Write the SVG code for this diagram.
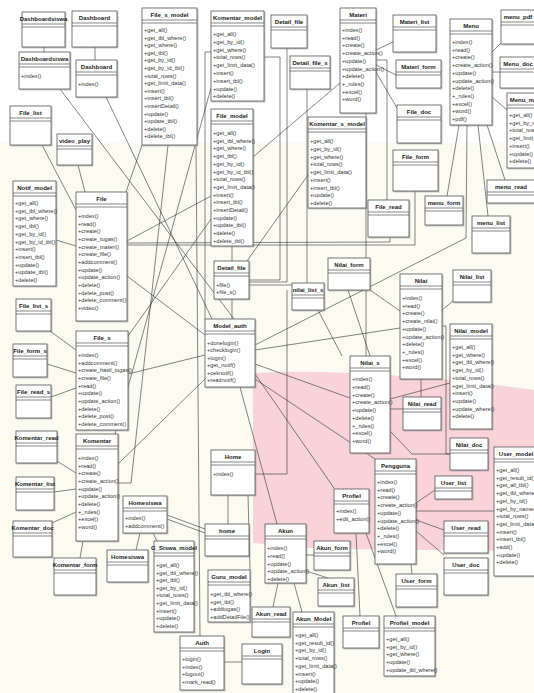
<svg xmlns="http://www.w3.org/2000/svg" width="534" height="693" viewBox="0 0 534 693">
<defs>
<filter id="sh" x="-10%" y="-10%" width="130%" height="130%"><feDropShadow dx="1" dy="1" stdDeviation="0.6" flood-color="#888" flood-opacity="0.55"/></filter>
</defs>
<style>
.b{fill:#fff;stroke:#555;stroke-width:0.8;filter:url(#sh)}
.d{stroke:#555;stroke-width:0.7;fill:none}
.n{font-family:"Liberation Sans Narrow","Liberation Sans",Arial,sans-serif;font-size:6px;font-weight:bold;fill:#222;text-anchor:middle}
.m{font-family:"Liberation Sans Narrow","Liberation Sans",Arial,sans-serif;font-size:5.6px;fill:#333}
#conn polyline{fill:none;stroke:#333;stroke-width:0.6}
</style>
<rect x="0" y="0" width="534" height="693" fill="#ffffff"/>
<rect x="0" y="143" width="534" height="550" fill="#fbfbf1"/>
<path d="M253,373 C330,368 450,378 534,390 L534,551 L320,549 L253,543 Z" fill="#f9d3d8"/>
<g id="conn">
<polyline points="44,47 44,52"/>
<polyline points="95,47 95,60"/>
<polyline points="60,89 234,319"/>
<polyline points="106,97 212,319"/>
<polyline points="42,145 76,210"/>
<polyline points="78,165 85,192"/>
<polyline points="142,145 126,192"/>
<polyline points="56,240 76,246"/>
<polyline points="127,241 211,196"/>
<polyline points="127,243 390,242 390,237"/>
<polyline points="127,245 415,245 415,191"/>
<polyline points="127,276 205,335"/>
<polyline points="50,331 76,350"/>
<polyline points="47,364 76,373"/>
<polyline points="51,397 76,388"/>
<polyline points="128,336 211,219"/>
<polyline points="128,374 205,355"/>
<polyline points="57,461 76,473"/>
<polyline points="54,492 76,489"/>
<polyline points="52,523 76,512"/>
<polyline points="83,541 80,558"/>
<polyline points="118,464 205,379"/>
<polyline points="118,483 131,483 168,145"/>
<polyline points="211,88 115,434"/>
<polyline points="211,52 205,52 205,319"/>
<polyline points="232,246 232,261"/>
<polyline points="232,299 232,319"/>
<polyline points="247,261 308,175"/>
<polyline points="340,83 253,157"/>
<polyline points="287,48 287,282 249,282"/>
<polyline points="307,89 307,285 249,285"/>
<polyline points="264,57 280,57 280,280 249,280"/>
<polyline points="376,50 393,42"/>
<polyline points="376,65 396,75"/>
<polyline points="376,72 397,108"/>
<polyline points="366,113 366,356"/>
<polyline points="376,60 387,60 387,200"/>
<polyline points="492,52 501,43"/>
<polyline points="492,72 500,72"/>
<polyline points="492,97 507,110"/>
<polyline points="459,125 447,196"/>
<polyline points="467,125 466,238 255,345"/>
<polyline points="478,125 488,216"/>
<polyline points="487,125 505,180"/>
<polyline points="370,290 400,311"/>
<polyline points="255,350 400,328"/>
<polyline points="442,310 453,301"/>
<polyline points="442,326 446,326 446,454 450,454"/>
<polyline points="421,379 421,397"/>
<polyline points="390,399 450,383"/>
<polyline points="390,409 403,409"/>
<polyline points="390,431 412,454 450,454"/>
<polyline points="255,364 350,398"/>
<polyline points="255,374 334,488"/>
<polyline points="255,379 375,459"/>
<polyline points="240,387 277,524"/>
<polyline points="318,310 342,356"/>
<polyline points="348,290 370,356"/>
<polyline points="416,503 435,490"/>
<polyline points="416,511 494,511"/>
<polyline points="416,520 444,530"/>
<polyline points="416,531 444,555"/>
<polyline points="411,564 412,574"/>
<polyline points="356,533 360,616"/>
<polyline points="366,533 396,616"/>
<polyline points="306,555 314,555"/>
<polyline points="306,571 328,578"/>
<polyline points="278,583 273,607"/>
<polyline points="294,583 302,612"/>
<polyline points="223,662 242,662"/>
<polyline points="228,495 228,524"/>
<polyline points="140,533 136,550"/>
<polyline points="153,533 157,541"/>
<polyline points="167,515 205,529"/>
<polyline points="167,519 205,533"/>
<polyline points="255,474 287,474 287,290"/>
<polyline points="196,145 200,636"/>
<polyline points="248,495 250,570"/>
</g>
<g id="dashboardsiswa1"><rect class="b" x="22" y="12" width="43" height="35"/><path class="d" d="M22 24h43M22 27h43"/><text class="n" x="43.5" y="21">Dashboardsiswa</text></g>
<g id="dashboard1"><rect class="b" x="72" y="11" width="45" height="36"/><path class="d" d="M72 23h45M72 26h45"/><text class="n" x="94.5" y="20">Dashboard</text></g>
<g id="dashboardsiswa2"><rect class="b" x="19" y="52" width="51" height="37"/><path class="d" d="M19 64h51M19 67h51"/><text class="n" x="44.5" y="61">Dashboardsiswa</text><text class="m" x="21" y="78">+index()</text></g>
<g id="dashboard2"><rect class="b" x="76" y="60" width="41" height="37"/><path class="d" d="M76 72h41M76 75h41"/><text class="n" x="96.5" y="69">Dashboard</text><text class="m" x="78" y="86">+index()</text></g>
<g id="file_s_model"><rect class="b" x="142" y="8" width="55" height="137"/><path class="d" d="M142 20h55M142 23h55"/><text class="n" x="169.5" y="17">File_s_model</text><text class="m" x="144" y="32"><tspan x="144">+get_all()</tspan><tspan x="144" dy="7.6">+get_tbl_where()</tspan><tspan x="144" dy="7.6">+get_where()</tspan><tspan x="144" dy="7.6">+get_tbl()</tspan><tspan x="144" dy="7.6">+get_by_id()</tspan><tspan x="144" dy="7.6">+get_by_id_tbl()</tspan><tspan x="144" dy="7.6">+total_rows()</tspan><tspan x="144" dy="7.6">+get_limit_data()</tspan><tspan x="144" dy="7.6">+insert()</tspan><tspan x="144" dy="7.6">+insert_tbl()</tspan><tspan x="144" dy="7.6">+insertDetail()</tspan><tspan x="144" dy="7.6">+update()</tspan><tspan x="144" dy="7.6">+update_tbl()</tspan><tspan x="144" dy="7.6">+delete()</tspan><tspan x="144" dy="7.6">+delete_tbl()</tspan></text></g>
<g id="komentar_model"><rect class="b" x="211" y="11" width="53" height="90"/><path class="d" d="M211 23h53M211 26h53"/><text class="n" x="237.5" y="20">Komentar_model</text><text class="m" x="213" y="36"><tspan x="213">+get_all()</tspan><tspan x="213" dy="7.8">+get_by_id()</tspan><tspan x="213" dy="7.8">+get_where()</tspan><tspan x="213" dy="7.8">+total_rows()</tspan><tspan x="213" dy="7.8">+get_limit_data()</tspan><tspan x="213" dy="7.8">+insert()</tspan><tspan x="213" dy="7.8">+insert_tbl()</tspan><tspan x="213" dy="7.8">+update()</tspan><tspan x="213" dy="7.8">+delete()</tspan></text></g>
<g id="detail_file1"><rect class="b" x="271" y="15" width="36" height="33"/><path class="d" d="M271 27h36M271 30h36"/><text class="n" x="289" y="24">Detail_file</text></g>
<g id="detail_file_s"><rect class="b" x="290" y="56" width="40" height="33"/><path class="d" d="M290 68h40M290 71h40"/><text class="n" x="310" y="65">Detail_file_s</text></g>
<g id="materi"><rect class="b" x="340" y="8" width="36" height="105"/><path class="d" d="M340 20h36M340 23h36"/><text class="n" x="358" y="17">Materi</text><text class="m" x="342" y="32"><tspan x="342">+index()</tspan><tspan x="342" dy="7.7">+read()</tspan><tspan x="342" dy="7.7">+create()</tspan><tspan x="342" dy="7.7">+create_action()</tspan><tspan x="342" dy="7.7">+update()</tspan><tspan x="342" dy="7.7">+update_action()</tspan><tspan x="342" dy="7.7">+delete()</tspan><tspan x="342" dy="7.7">+_rules()</tspan><tspan x="342" dy="7.7">+excel()</tspan><tspan x="342" dy="7.7">+word()</tspan></text></g>
<g id="materi_list"><rect class="b" x="393" y="15" width="43" height="37"/><path class="d" d="M393 27h43M393 30h43"/><text class="n" x="414.5" y="24">Materi_list</text></g>
<g id="materi_form"><rect class="b" x="396" y="60" width="45" height="28"/><path class="d" d="M396 72h45M396 75h45"/><text class="n" x="418.5" y="69">Materi_form</text></g>
<g id="file_doc"><rect class="b" x="397" y="105" width="44" height="38"/><path class="d" d="M397 117h44M397 120h44"/><text class="n" x="419" y="114">File_doc</text></g>
<g id="file_form"><rect class="b" x="393" y="150" width="45" height="41"/><path class="d" d="M393 162h45M393 165h45"/><text class="n" x="415.5" y="159">File_form</text></g>
<g id="menu"><rect class="b" x="450" y="19" width="42" height="106"/><path class="d" d="M450 31h42M450 34h42"/><text class="n" x="471" y="28">Menu</text><text class="m" x="452" y="44"><tspan x="452">+index()</tspan><tspan x="452" dy="7.7">+read()</tspan><tspan x="452" dy="7.7">+create()</tspan><tspan x="452" dy="7.7">+create_action()</tspan><tspan x="452" dy="7.7">+update()</tspan><tspan x="452" dy="7.7">+update_action()</tspan><tspan x="452" dy="7.7">+delete()</tspan><tspan x="452" dy="7.7">+_rules()</tspan><tspan x="452" dy="7.7">+excel()</tspan><tspan x="452" dy="7.7">+word()</tspan><tspan x="452" dy="7.7">+pdf()</tspan></text></g>
<g id="menu_pdf"><rect class="b" x="501" y="10" width="36" height="34"/><path class="d" d="M501 22h36M501 25h36"/><text class="n" x="518" y="19">menu_pdf</text></g>
<g id="menu_doc"><rect class="b" x="500" y="57" width="38" height="31"/><path class="d" d="M500 69h38M500 72h38"/><text class="n" x="518" y="66">Menu_doc</text></g>
<g id="menu_model"><rect class="b" x="507" y="93" width="42" height="75"/><path class="d" d="M507 105h42M507 108h42"/><text class="n" x="528" y="102">Menu_model</text><text class="m" x="509" y="117"><tspan x="509">+get_all()</tspan><tspan x="509" dy="7.7">+get_by_id()</tspan><tspan x="509" dy="7.7">+total_rows()</tspan><tspan x="509" dy="7.7">+get_limit_data()</tspan><tspan x="509" dy="7.7">+insert()</tspan><tspan x="509" dy="7.7">+update()</tspan><tspan x="509" dy="7.7">+delete()</tspan></text></g>
<g id="file_model"><rect class="b" x="211" y="109" width="42" height="137"/><path class="d" d="M211 121h42M211 124h42"/><text class="n" x="232" y="118">File_model</text><text class="m" x="213" y="135"><tspan x="213">+get_all()</tspan><tspan x="213" dy="7.7">+get_tbl_where()</tspan><tspan x="213" dy="7.7">+get_where()</tspan><tspan x="213" dy="7.7">+get_tbl()</tspan><tspan x="213" dy="7.7">+get_by_id()</tspan><tspan x="213" dy="7.7">+get_by_id_tbl()</tspan><tspan x="213" dy="7.7">+total_rows()</tspan><tspan x="213" dy="7.7">+get_limit_data()</tspan><tspan x="213" dy="7.7">+insert()</tspan><tspan x="213" dy="7.7">+insert_tbl()</tspan><tspan x="213" dy="7.7">+insertDetail()</tspan><tspan x="213" dy="7.7">+update()</tspan><tspan x="213" dy="7.7">+update_tbl()</tspan><tspan x="213" dy="7.7">+delete()</tspan><tspan x="213" dy="7.7">+delete_tbl()</tspan></text></g>
<g id="komentar_s_model"><rect class="b" x="308" y="117" width="58" height="91"/><path class="d" d="M308 129h58M308 132h58"/><text class="n" x="337" y="126">Komentar_s_model</text><text class="m" x="310" y="143"><tspan x="310">+get_all()</tspan><tspan x="310" dy="7.75">+get_by_id()</tspan><tspan x="310" dy="7.75">+get_where()</tspan><tspan x="310" dy="7.75">+total_rows()</tspan><tspan x="310" dy="7.75">+get_limit_data()</tspan><tspan x="310" dy="7.75">+insert()</tspan><tspan x="310" dy="7.75">+insert_tbl()</tspan><tspan x="310" dy="7.75">+update()</tspan><tspan x="310" dy="7.75">+delete()</tspan></text></g>
<g id="file_list"><rect class="b" x="10" y="106" width="41" height="39"/><path class="d" d="M10 118h41M10 121h41"/><text class="n" x="30.5" y="115">File_list</text></g>
<g id="video_play"><rect class="b" x="57" y="134" width="35" height="31"/><path class="d" d="M57 146h35M57 149h35"/><text class="n" x="74.5" y="143">video_play</text></g>
<g id="notif_model"><rect class="b" x="13" y="181" width="43" height="105"/><path class="d" d="M13 193h43M13 196h43"/><text class="n" x="34.5" y="190">Notif_model</text><text class="m" x="15" y="205"><tspan x="15">+get_all()</tspan><tspan x="15" dy="7.7">+get_tbl_where()</tspan><tspan x="15" dy="7.7">+get_where()</tspan><tspan x="15" dy="7.7">+get_tbl()</tspan><tspan x="15" dy="7.7">+get_by_id()</tspan><tspan x="15" dy="7.7">+get_by_id_tbl()</tspan><tspan x="15" dy="7.7">+insert()</tspan><tspan x="15" dy="7.7">+insert_tbl()</tspan><tspan x="15" dy="7.7">+update()</tspan><tspan x="15" dy="7.7">+update_tbl()</tspan><tspan x="15" dy="7.7">+delete()</tspan></text></g>
<g id="file"><rect class="b" x="76" y="192" width="51" height="129"/><path class="d" d="M76 204h51M76 207h51"/><text class="n" x="101.5" y="201">File</text><text class="m" x="78" y="218"><tspan x="78">+index()</tspan><tspan x="78" dy="7.67">+read()</tspan><tspan x="78" dy="7.67">+create()</tspan><tspan x="78" dy="7.67">+create_tugas()</tspan><tspan x="78" dy="7.67">+create_materi()</tspan><tspan x="78" dy="7.67">+create_file()</tspan><tspan x="78" dy="7.67">+addcomment()</tspan><tspan x="78" dy="7.67">+update()</tspan><tspan x="78" dy="7.67">+update_action()</tspan><tspan x="78" dy="7.67">+delete()</tspan><tspan x="78" dy="7.67">+delete_post()</tspan><tspan x="78" dy="7.67">+delete_comment()</tspan><tspan x="78" dy="7.67">+video()</tspan></text></g>
<g id="detail_file2"><rect class="b" x="214" y="261" width="35" height="38"/><path class="d" d="M214 273h35M214 276h35"/><text class="n" x="231.5" y="270">Detail_file</text><text class="m" x="216" y="287"><tspan x="216">+file()</tspan><tspan x="216" dy="7">+file_s()</tspan></text></g>
<g id="nilai_list_s"><rect class="b" x="292" y="283" width="32" height="27"/><path class="d" d="M292 295h32M292 298h32"/><text class="n" x="308" y="292">nilai_list_s</text></g>
<g id="nilai_form"><rect class="b" x="328" y="258" width="42" height="32"/><path class="d" d="M328 270h42M328 273h42"/><text class="n" x="349" y="267">Nilai_form</text></g>
<g id="model_auth"><rect class="b" x="205" y="319" width="50" height="68"/><path class="d" d="M205 331h50M205 334h50"/><text class="n" x="230" y="328">Model_auth</text><text class="m" x="207" y="345"><tspan x="207">+donelogin()</tspan><tspan x="207" dy="7.4">+checklogin()</tspan><tspan x="207" dy="7.4">+login()</tspan><tspan x="207" dy="7.4">+get_notif()</tspan><tspan x="207" dy="7.4">+ceknotif()</tspan><tspan x="207" dy="7.4">+readnotif()</tspan></text></g>
<g id="file_list_s"><rect class="b" x="16" y="299" width="35" height="32"/><path class="d" d="M16 311h35M16 314h35"/><text class="n" x="33.5" y="308">File_list_s</text></g>
<g id="file_s"><rect class="b" x="76" y="331" width="52" height="99"/><path class="d" d="M76 343h52M76 346h52"/><text class="n" x="102" y="340">File_s</text><text class="m" x="78" y="357"><tspan x="78">+index()</tspan><tspan x="78" dy="7.67">+addcomment()</tspan><tspan x="78" dy="7.67">+create_hasil_tugas()</tspan><tspan x="78" dy="7.67">+create_file()</tspan><tspan x="78" dy="7.67">+read()</tspan><tspan x="78" dy="7.67">+update()</tspan><tspan x="78" dy="7.67">+update_action()</tspan><tspan x="78" dy="7.67">+delete()</tspan><tspan x="78" dy="7.67">+delete_post()</tspan><tspan x="78" dy="7.67">+delete_comment()</tspan></text></g>
<g id="file_form_s"><rect class="b" x="13" y="344" width="34" height="33"/><path class="d" d="M13 356h34M13 359h34"/><text class="n" x="30" y="353">File_form_s</text></g>
<g id="file_read_s"><rect class="b" x="16" y="385" width="35" height="33"/><path class="d" d="M16 397h35M16 400h35"/><text class="n" x="33.5" y="394">File_read_s</text></g>
<g id="komentar_read"><rect class="b" x="16" y="431" width="41" height="32"/><path class="d" d="M16 443h41M16 446h41"/><text class="n" x="36.5" y="440">Komentar_read</text></g>
<g id="komentar_list"><rect class="b" x="16" y="477" width="38" height="33"/><path class="d" d="M16 489h38M16 492h38"/><text class="n" x="35" y="486">Komentar_list</text></g>
<g id="komentar"><rect class="b" x="76" y="434" width="42" height="107"/><path class="d" d="M76 446h42M76 449h42"/><text class="n" x="97" y="443">Komentar</text><text class="m" x="78" y="460"><tspan x="78">+index()</tspan><tspan x="78" dy="7.67">+read()</tspan><tspan x="78" dy="7.67">+create()</tspan><tspan x="78" dy="7.67">+create_action()</tspan><tspan x="78" dy="7.67">+update()</tspan><tspan x="78" dy="7.67">+update_action()</tspan><tspan x="78" dy="7.67">+delete()</tspan><tspan x="78" dy="7.67">+_rules()</tspan><tspan x="78" dy="7.67">+excel()</tspan><tspan x="78" dy="7.67">+word()</tspan></text></g>
<g id="komentar_doc"><rect class="b" x="13" y="521" width="39" height="36"/><path class="d" d="M13 533h39M13 536h39"/><text class="n" x="32.5" y="530">Komentar_doc</text></g>
<g id="komentar_form"><rect class="b" x="54" y="558" width="42" height="37"/><path class="d" d="M54 570h42M54 573h42"/><text class="n" x="75" y="567">Komentar_form</text></g>
<g id="homesiswa1"><rect class="b" x="123" y="496" width="44" height="37"/><path class="d" d="M123 508h44M123 511h44"/><text class="n" x="145" y="505">Homesiswa</text><text class="m" x="125" y="520"><tspan x="125">+index()</tspan><tspan x="125" dy="8">+addcomment()</tspan></text></g>
<g id="homesiswa2"><rect class="b" x="107" y="550" width="41" height="32"/><path class="d" d="M107 562h41M107 565h41"/><text class="n" x="127.5" y="559">Homesiswa</text></g>
<g id="g_siswa_model"><rect class="b" x="154" y="541" width="40" height="91"/><path class="d" d="M154 553h40M154 556h40"/><text class="n" x="174" y="550">G_Siswa_model</text><text class="m" x="156" y="567"><tspan x="156">+get_all()</tspan><tspan x="156" dy="7.6">+get_tbl_where()</tspan><tspan x="156" dy="7.6">+get_tbl()</tspan><tspan x="156" dy="7.6">+get_by_id()</tspan><tspan x="156" dy="7.6">+total_rows()</tspan><tspan x="156" dy="7.6">+get_limit_data()</tspan><tspan x="156" dy="7.6">+insert()</tspan><tspan x="156" dy="7.6">+update()</tspan><tspan x="156" dy="7.6">+delete()</tspan></text></g>
<g id="home1"><rect class="b" x="211" y="450" width="44" height="45"/><path class="d" d="M211 462h44M211 465h44"/><text class="n" x="233" y="459">Home</text><text class="m" x="213" y="476">+index()</text></g>
<g id="home2"><rect class="b" x="205" y="524" width="44" height="32"/><path class="d" d="M205 536h44M205 539h44"/><text class="n" x="227" y="533">home</text></g>
<g id="guru_model"><rect class="b" x="208" y="570" width="42" height="52"/><path class="d" d="M208 582h42M208 585h42"/><text class="n" x="229" y="579">Guru_model</text><text class="m" x="210" y="596"><tspan x="210">+get_tbl_where()</tspan><tspan x="210" dy="7.7">+get_tbl()</tspan><tspan x="210" dy="7.7">+addtugas()</tspan><tspan x="210" dy="7.7">+addDetailFile()</tspan></text></g>
<g id="auth"><rect class="b" x="180" y="636" width="44" height="54"/><path class="d" d="M180 648h44M180 651h44"/><text class="n" x="202" y="645">Auth</text><text class="m" x="182" y="661"><tspan x="182">+login()</tspan><tspan x="182" dy="7.7">+index()</tspan><tspan x="182" dy="7.7">+logout()</tspan><tspan x="182" dy="7.7">+mark_read()</tspan></text></g>
<g id="login"><rect class="b" x="242" y="644" width="40" height="40"/><path class="d" d="M242 656h40M242 659h40"/><text class="n" x="262" y="653">Login</text></g>
<g id="akun"><rect class="b" x="265" y="524" width="41" height="59"/><path class="d" d="M265 536h41M265 539h41"/><text class="n" x="285.5" y="533">Akun</text><text class="m" x="267" y="550"><tspan x="267">+index()</tspan><tspan x="267" dy="7.75">+read()</tspan><tspan x="267" dy="7.75">+update()</tspan><tspan x="267" dy="7.75">+update_action()</tspan><tspan x="267" dy="7.75">+delete()</tspan></text></g>
<g id="akun_form"><rect class="b" x="314" y="541" width="36" height="29"/><path class="d" d="M314 553h36M314 556h36"/><text class="n" x="332" y="550">Akun_form</text></g>
<g id="akun_list"><rect class="b" x="318" y="578" width="36" height="28"/><path class="d" d="M318 590h36M318 593h36"/><text class="n" x="336" y="587">Akun_list</text></g>
<g id="akun_read"><rect class="b" x="252" y="607" width="38" height="30"/><path class="d" d="M252 619h38M252 622h38"/><text class="n" x="271" y="616">Akun_read</text></g>
<g id="akun_model"><rect class="b" x="293" y="612" width="41" height="84"/><path class="d" d="M293 624h41M293 627h41"/><text class="n" x="313.5" y="621">Akun_Model</text><text class="m" x="295" y="637"><tspan x="295">+get_all()</tspan><tspan x="295" dy="7.7">+get_result_id()</tspan><tspan x="295" dy="7.7">+get_by_id()</tspan><tspan x="295" dy="7.7">+total_rows()</tspan><tspan x="295" dy="7.7">+get_limit_data()</tspan><tspan x="295" dy="7.7">+insert()</tspan><tspan x="295" dy="7.7">+update()</tspan><tspan x="295" dy="7.7">+delete()</tspan></text></g>
<g id="profiel2"><rect class="b" x="343" y="616" width="36" height="32"/><path class="d" d="M343 628h36M343 631h36"/><text class="n" x="361" y="625">Profiel</text></g>
<g id="profiel_model"><rect class="b" x="384" y="616" width="51" height="60"/><path class="d" d="M384 628h51M384 631h51"/><text class="n" x="409.5" y="625">Profiel_model</text><text class="m" x="386" y="641"><tspan x="386">+get_all()</tspan><tspan x="386" dy="7.7">+get_by_id()</tspan><tspan x="386" dy="7.7">+get_where()</tspan><tspan x="386" dy="7.7">+update()</tspan><tspan x="386" dy="7.7">+update_tbl_where()</tspan></text></g>
<g id="user_form"><rect class="b" x="396" y="574" width="41" height="33"/><path class="d" d="M396 586h41M396 589h41"/><text class="n" x="416.5" y="583">User_form</text></g>
<g id="user_read"><rect class="b" x="444" y="521" width="44" height="32"/><path class="d" d="M444 533h44M444 536h44"/><text class="n" x="466" y="530">User_read</text></g>
<g id="user_doc"><rect class="b" x="444" y="558" width="44" height="37"/><path class="d" d="M444 570h44M444 573h44"/><text class="n" x="466" y="567">User_doc</text></g>
<g id="pengguna"><rect class="b" x="375" y="459" width="41" height="105"/><path class="d" d="M375 471h41M375 474h41"/><text class="n" x="395.5" y="468">Pengguna</text><text class="m" x="377" y="484"><tspan x="377">+index()</tspan><tspan x="377" dy="7.7">+read()</tspan><tspan x="377" dy="7.7">+create()</tspan><tspan x="377" dy="7.7">+create_action()</tspan><tspan x="377" dy="7.7">+update()</tspan><tspan x="377" dy="7.7">+update_action()</tspan><tspan x="377" dy="7.7">+delete()</tspan><tspan x="377" dy="7.7">+_rules()</tspan><tspan x="377" dy="7.7">+excel()</tspan><tspan x="377" dy="7.7">+word()</tspan></text></g>
<g id="user_model"><rect class="b" x="494" y="447" width="46" height="129"/><path class="d" d="M494 459h46M494 462h46"/><text class="n" x="516" y="456">User_model</text><text class="m" x="496" y="472"><tspan x="496">+get_all()</tspan><tspan x="496" dy="7.7">+get_result_id()</tspan><tspan x="496" dy="7.7">+get_all_tbl()</tspan><tspan x="496" dy="7.7">+get_tbl_where()</tspan><tspan x="496" dy="7.7">+get_by_id()</tspan><tspan x="496" dy="7.7">+get_by_name()</tspan><tspan x="496" dy="7.7">+total_rows()</tspan><tspan x="496" dy="7.7">+get_limit_data()</tspan><tspan x="496" dy="7.7">+insert()</tspan><tspan x="496" dy="7.7">+insert_tbl()</tspan><tspan x="496" dy="7.7">+add()</tspan><tspan x="496" dy="7.7">+update()</tspan><tspan x="496" dy="7.7">+delete()</tspan></text></g>
<g id="user_list"><rect class="b" x="435" y="476" width="37" height="23"/><path class="d" d="M435 488h37M435 491h37"/><text class="n" x="453.5" y="485">User_list</text></g>
<g id="nilai_doc"><rect class="b" x="450" y="438" width="38" height="32"/><path class="d" d="M450 450h38M450 453h38"/><text class="n" x="469" y="447">Nilai_doc</text></g>
<g id="nilai_read"><rect class="b" x="403" y="397" width="38" height="33"/><path class="d" d="M403 409h38M403 412h38"/><text class="n" x="422" y="406">Nilai_read</text></g>
<g id="nilai_model"><rect class="b" x="450" y="324" width="42" height="105"/><path class="d" d="M450 336h42M450 339h42"/><text class="n" x="471" y="333">Nilai_model</text><text class="m" x="452" y="349"><tspan x="452">+get_all()</tspan><tspan x="452" dy="7.7">+get_where()</tspan><tspan x="452" dy="7.7">+get_tbl_where()</tspan><tspan x="452" dy="7.7">+get_by_id()</tspan><tspan x="452" dy="7.7">+total_rows()</tspan><tspan x="452" dy="7.7">+get_limit_data()</tspan><tspan x="452" dy="7.7">+insert()</tspan><tspan x="452" dy="7.7">+update()</tspan><tspan x="452" dy="7.7">+update_where()</tspan><tspan x="452" dy="7.7">+delete()</tspan></text></g>
<g id="nilai"><rect class="b" x="400" y="274" width="42" height="105"/><path class="d" d="M400 286h42M400 289h42"/><text class="n" x="421" y="283">Nilai</text><text class="m" x="402" y="300"><tspan x="402">+index()</tspan><tspan x="402" dy="7.7">+read()</tspan><tspan x="402" dy="7.7">+create()</tspan><tspan x="402" dy="7.7">+create_nilai()</tspan><tspan x="402" dy="7.7">+update()</tspan><tspan x="402" dy="7.7">+update_action()</tspan><tspan x="402" dy="7.7">+delete()</tspan><tspan x="402" dy="7.7">+_rules()</tspan><tspan x="402" dy="7.7">+excel()</tspan><tspan x="402" dy="7.7">+word()</tspan></text></g>
<g id="nilai_list"><rect class="b" x="453" y="270" width="38" height="32"/><path class="d" d="M453 282h38M453 285h38"/><text class="n" x="472" y="279">Nilai_list</text></g>
<g id="nilai_s"><rect class="b" x="350" y="356" width="40" height="97"/><path class="d" d="M350 368h40M350 371h40"/><text class="n" x="370" y="365">Nilai_s</text><text class="m" x="352" y="381"><tspan x="352">+index()</tspan><tspan x="352" dy="7.75">+read()</tspan><tspan x="352" dy="7.75">+create()</tspan><tspan x="352" dy="7.75">+create_action()</tspan><tspan x="352" dy="7.75">+update()</tspan><tspan x="352" dy="7.75">+delete()</tspan><tspan x="352" dy="7.75">+_rules()</tspan><tspan x="352" dy="7.75">+excel()</tspan><tspan x="352" dy="7.75">+word()</tspan></text></g>
<g id="file_read"><rect class="b" x="368" y="200" width="41" height="37"/><path class="d" d="M368 212h41M368 215h41"/><text class="n" x="388.5" y="209">File_read</text></g>
<g id="menu_form"><rect class="b" x="425" y="196" width="38" height="29"/><path class="d" d="M425 208h38M425 211h38"/><text class="n" x="444" y="205">menu_form</text></g>
<g id="menu_read"><rect class="b" x="487" y="180" width="50" height="23"/><path class="d" d="M487 192h50M487 195h50"/><text class="n" x="511" y="189">menu_read</text></g>
<g id="menu_list"><rect class="b" x="472" y="216" width="38" height="37"/><path class="d" d="M472 228h38M472 231h38"/><text class="n" x="491" y="225">menu_list</text></g>
<g id="profiel1"><rect class="b" x="334" y="489" width="35" height="44"/><path class="d" d="M334 501h35M334 504h35"/><text class="n" x="351.5" y="498">Profiel</text><text class="m" x="336" y="513"><tspan x="336">+index()</tspan><tspan x="336" dy="7.5">+edit_action()</tspan></text></g>
</svg>
